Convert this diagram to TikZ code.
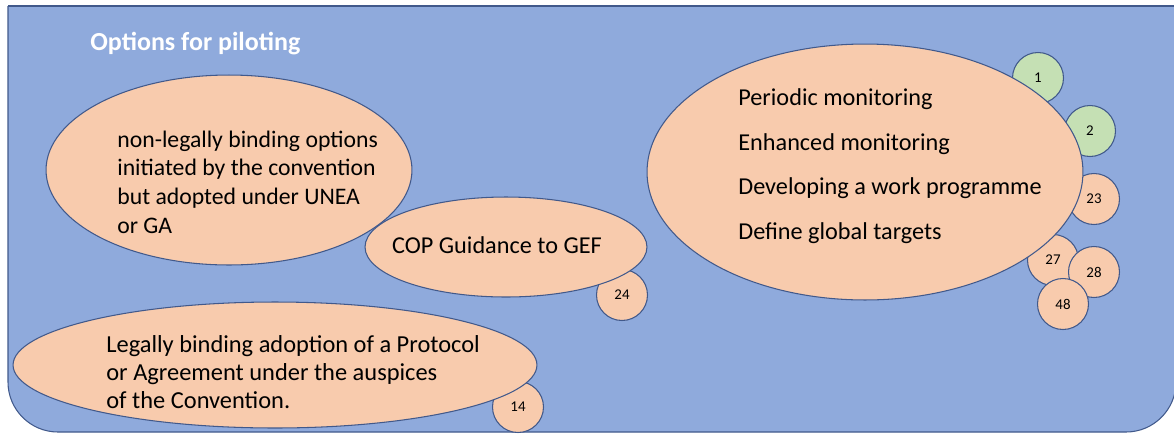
\documentclass[tikz,border=0pt]{standalone}
\usepackage{fontspec}
\setmainfont{Carlito}
\usetikzlibrary{shapes.geometric}
\definecolor{panelblue}{HTML}{8FAADC}
\definecolor{edgeblue}{HTML}{41598B}
\definecolor{peach}{HTML}{F8CBAD}
\definecolor{mint}{HTML}{C5E0B4}

\begin{document}
\begin{tikzpicture}[
    x=0.02cm, y=-0.02cm,
    blob/.style={draw=edgeblue, line width=0.6pt, fill=peach, ellipse,
                 inner sep=0pt},
    dot/.style={draw=edgeblue, line width=0.6pt, fill=peach, circle,
                minimum size=1.02cm, inner sep=0pt,
                font=\fontsize{8.5}{10}\selectfont},
    txt/.style={anchor=base west, align=left, inner sep=0pt}
  ]
  \useasboundingbox (0,0) rectangle (1174,434);

  % background panel
  \fill[panelblue, rounded corners=1cm] (8,6) -- (8,432) -- (1176,432) -- (1176,6);
  \draw[edgeblue, line width=0.6pt, rounded corners=1cm]
    (8,6) -- (8,432) -- (1176,432) -- (1176,6);
  \draw[edgeblue, line width=0.6pt] (8,6) -- (1176,6);
  \node[anchor=base west, inner sep=0pt, text=white,
        font=\fontsize{14.8}{17}\selectfont\bfseries] (title) at (90,50)
    {Options for piloting};

  % reference numbers behind the ellipses
  \node[dot, fill=mint] (c1) at (1038,78) {1};
  \node[dot, fill=mint] (c2) at (1090,131) {2};
  \node[dot] (c23) at (1094,199) {23};
  \node[dot] (c27) at (1053,260) {27};
  \node[dot] (c28) at (1094,272) {28};
  \node[dot] (c48) at (1063,304) {48};
  \node[dot] (c24) at (622,295) {24};
  \node[dot] (c14) at (518,407) {14};

  % option ellipses (text anchored at the baseline of its last line)
  \node[blob, minimum width=7.32cm, minimum height=3.8cm] (nonlegal) at (229,170) {};
  \node[txt, font=\fontsize{13.5}{16.3}\selectfont] (nonlegal-txt) at (117,233)
    {non-legally binding options\\initiated by the convention\\
     but adopted under UNEA\\or GA};

  \node[blob, minimum width=5.64cm, minimum height=2cm] (cop) at (506,247) {};
  \node[font=\fontsize{13.8}{16}\selectfont, inner sep=0pt] (cop-txt) at (497,245)
    {COP Guidance to GEF};

  \node[blob, minimum width=8.72cm, minimum height=5.12cm] (monitor) at (865,172) {};
  \node[txt, font=\fontsize{13.8}{25.3}\selectfont] (monitor-txt) at (738,239)
    {Periodic monitoring\\Enhanced monitoring\\
     Developing a work programme\\Define global targets};

  \node[blob, minimum width=10.48cm, minimum height=2.52cm] (protocol) at (275,365) {};
  \node[txt, font=\fontsize{13.9}{15.7}\selectfont] (protocol-txt) at (106,408)
    {Legally binding adoption of a Protocol\\
     or Agreement under the auspices\\of the Convention.};
\end{tikzpicture}
\end{document}
